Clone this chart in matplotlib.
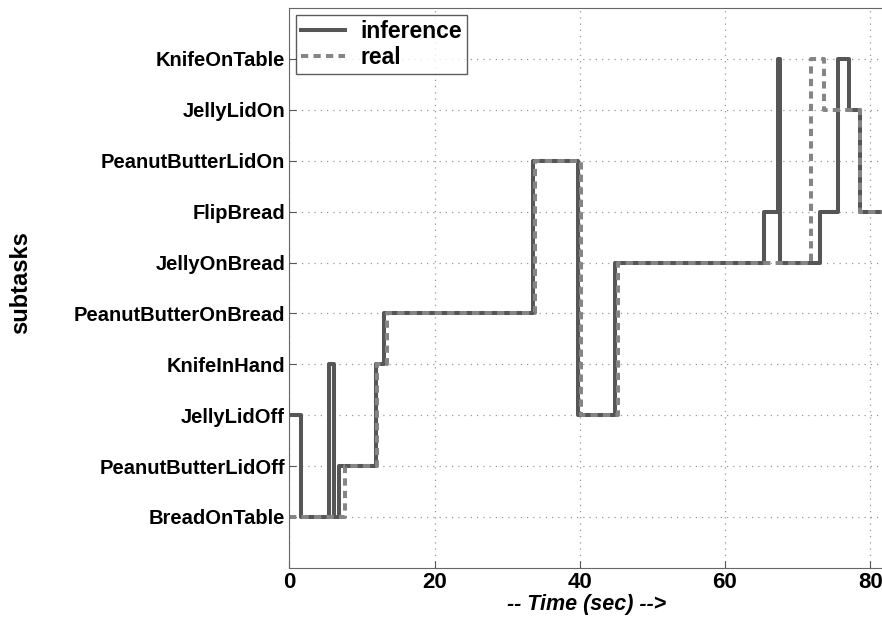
import matplotlib
matplotlib.use("Agg")
import matplotlib.pyplot as plt

# subtask names, bottom to top
subtasks = ["BreadOnTable", "PeanutButterLidOff", "JellyLidOff", "KnifeInHand",
            "PeanutButterOnBread", "JellyOnBread", "FlipBread", "PeanutButterLidOn",
            "JellyLidOn", "KnifeOnTable"]

# step changes: time (sec) where a new subtask starts, and its index
inf_times = [0, 1.6, 5.4, 6.2, 6.9, 11.9, 13.0, 33.5, 39.8, 44.9, 65.4, 67.3, 67.6,
             73.1, 75.6, 77.1, 78.6, 82]
inf_tasks = [2, 0, 3, 0, 1, 3, 4, 7, 2, 5, 6, 9, 5, 6, 9, 8, 6, 6]

real_times = [0, 7.7, 12.1, 13.5, 33.9, 40.2, 45.3, 71.9, 73.7, 78.6, 82]
real_tasks = [0, 1, 3, 4, 7, 2, 5, 9, 8, 6, 6]

plt.rcParams['font.family'] = ['Liberation Sans', 'DejaVu Sans']

fig = plt.figure(figsize=(8.82, 6.22), dpi=100)
ax = fig.add_axes([0.328, 0.087, 0.675, 0.9])

ax.step(inf_times, inf_tasks, where="post", color="#565656", lw=2.9, label="inference")
ax.step(real_times, real_tasks, where="post", color="#858585", lw=2.9,
        linestyle=(0, (1.8, 1.3)), label="real")

ax.set_xlim(0, 82)
ax.set_ylim(-1, 10)
ax.set_xticks([0, 20, 40, 60, 80])
ax.set_yticks(range(len(subtasks)))
ax.set_yticklabels(subtasks, fontsize=14.5, fontweight="bold")
for lab in ax.get_xticklabels():
    lab.set_fontsize(16)
    lab.set_fontweight("bold")
ax.tick_params(direction="in", length=5, width=0.8, color="#555555")
ax.tick_params(axis="x", pad=3)
ax.tick_params(axis="y", pad=3)

ax.grid(True, linestyle=(0, (1, 4)), color="#999999", linewidth=0.9)
ax.spines["right"].set_visible(False)
for s in ["left", "top", "bottom"]:
    ax.spines[s].set_color("#666666")

ax.set_xlabel("-- Time (sec) -->", fontsize=15.5, fontweight="bold", style="italic", labelpad=1)
ax.set_ylabel("subtasks", fontsize=17, fontweight="bold")
ax.yaxis.set_label_coords(-0.432, 0.51)

leg = ax.legend(loc="upper left", prop={"weight": "bold", "size": 16.5},
                fancybox=False, edgecolor="#333333", handlelength=1.9,
                borderaxespad=0.3, labelspacing=0.12, borderpad=0.22, handletextpad=0.7)
leg.get_frame().set_linewidth(1.0)

fig.savefig("out.png", dpi=100)
